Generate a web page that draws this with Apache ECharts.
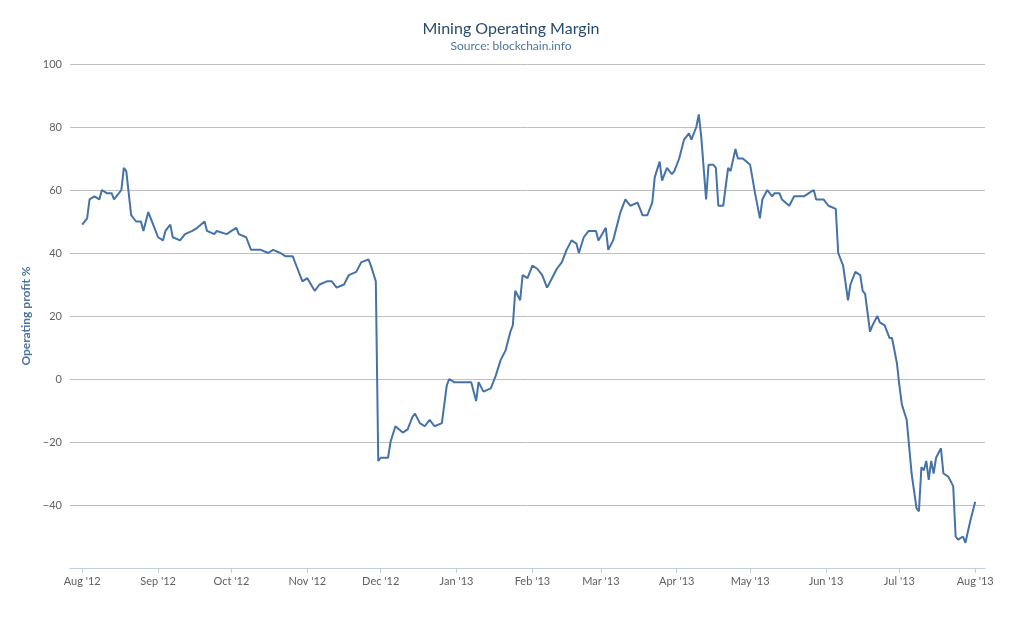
<!DOCTYPE html>
<html>
<head>
<meta charset="utf-8">
<title>Mining Operating Margin</title>
<script src="https://cdn.jsdelivr.net/npm/echarts@6/dist/echarts.min.js"></script>
<style>
  html, body { margin: 0; padding: 0; background: #fff; }
  #chart { width: 1022px; height: 627px; }
</style>
</head>
<body>
<div id="chart"></div>
<script>
// days since 1 Aug 2012, and operating margin in %
var dayOffsets = [0,2,3,5,7,8,10,12,13,16,17,18,20,22,24,25,27,29,31,33,34,36,37,40,42,45,47,50,51,54,55,59,61,63,64,67,69,73,76,78,81,83,86,88,90,92,95,97,100,102,104,107,109,112,114,117,118,120,121,122,125,126,128,131,133,135,136,138,140,142,144,147,149,150,152,154,157,159,161,162,164,167,169,171,173,175,176,177,179,180,182,184,186,188,190,192,194,196,198,200,202,203,205,207,210,211,214,215,217,220,222,224,227,229,231,233,234,236,237,239,241,242,244,246,248,249,251,252,253,255,256,258,259,260,262,264,265,267,268,270,273,275,277,278,280,282,283,285,286,289,291,293,295,297,299,300,303,305,308,309,311,313,314,316,318,319,320,322,323,325,326,328,330,331,333,334,335,337,339,341,342,343,344,345,346,347,348,349,351,352,354,356,357,358,360,361,363,365];
var margins = [49,51,57,58,57,60,59,59,57,60,67,66,52,50,50,47,53,49,45,44,47,49,45,44,46,47,48,50,47,46,47,46,47,48,46,45,41,41,40,41,40,39,39,35,31,32,28,30,31,31,29,30,33,34,37,38,36,31,-26,-25,-25,-20,-15,-17,-16,-12,-11,-14,-15,-13,-15,-14,-2,0,-1,-1,-1,-1,-7,-1,-4,-3,1,6,9,15,17,28,25,33,32,36,35,33,29,32,35,37,41,44,43,40,45,47,47,44,48,41,44,53,57,55,56,52,52,56,64,69,63,67,65,66,70,76,78,76,80,84,77,57,68,68,67,55,55,67,66,73,70,70,68,59,51,57,60,58,59,59,57,55,58,58,58,59,60,57,57,55,54,40,36,25,30,34,33,28,27,15,17,20,18,17,13,13,5,-2,-8,-13,-30,-41,-42,-28,-29,-26,-32,-26,-30,-25,-22,-30,-31,-34,-50,-51,-50,-52,-45,-39];
var monthNames = ['Jan','Feb','Mar','Apr','May','Jun','Jul','Aug','Sep','Oct','Nov','Dec'];

var DAY = 86400000;
var start = Date.UTC(2012, 7, 1);
var points = dayOffsets.map(function (d, i) { return [start + d * DAY, margins[i]]; });

var chart = echarts.init(document.getElementById('chart'));
chart.setOption({
  animation: false,
  title: {
    text: 'Mining Operating Margin',
    subtext: 'Source: blockchain.info',
    left: 'center', top: 16, itemGap: 3,
    textStyle: { fontFamily: 'Lato', fontSize: 16, fontWeight: 'normal', color: '#274b6d' },
    subtextStyle: { fontFamily: 'Lato', fontSize: 12, color: '#4d759e' }
  },
  grid: { left: 70, right: 37, top: 64, bottom: 59 },
  xAxis: {
    type: 'time',
    min: start - 5 * DAY,
    max: start + 369 * DAY,
    minInterval: 28 * DAY,
    maxInterval: 31 * DAY,
    axisLine: { onZero: false, lineStyle: { color: '#C0D0E0' } },
    axisTick: { show: true, length: 5, lineStyle: { color: '#C0D0E0' } },
    splitLine: { show: false },
    axisLabel: {
      color: '#606060', fontFamily: 'Lato', fontSize: 11, showMinLabel: false, showMaxLabel: false,
      formatter: function (v) {
        var d = new Date(v);
        return monthNames[d.getUTCMonth()] + " '" + String(d.getUTCFullYear()).slice(2);
      }
    }
  },
  yAxis: {
    type: 'value', min: -60, max: 100, interval: 20,
    name: 'Operating profit %', nameLocation: 'middle', nameGap: 37,
    nameTextStyle: { color: '#4d759e', fontWeight: 'bold', fontSize: 12, fontFamily: 'Lato' },
    axisLine: { show: false }, axisTick: { show: false },
    splitLine: { lineStyle: { color: '#C0C0C0' } },
    axisLabel: {
      color: '#606060', fontFamily: 'Lato', fontSize: 11,
      formatter: function (v) { return v === -60 ? '' : (v < 0 ? '\u2212' + (-v) : v); }
    }
  },
  series: [{
    type: 'line', data: points, showSymbol: false,
    lineStyle: { color: '#4572A7', width: 2 },
    itemStyle: { color: '#4572A7' }
  }]
});
</script>
</body>
</html>
